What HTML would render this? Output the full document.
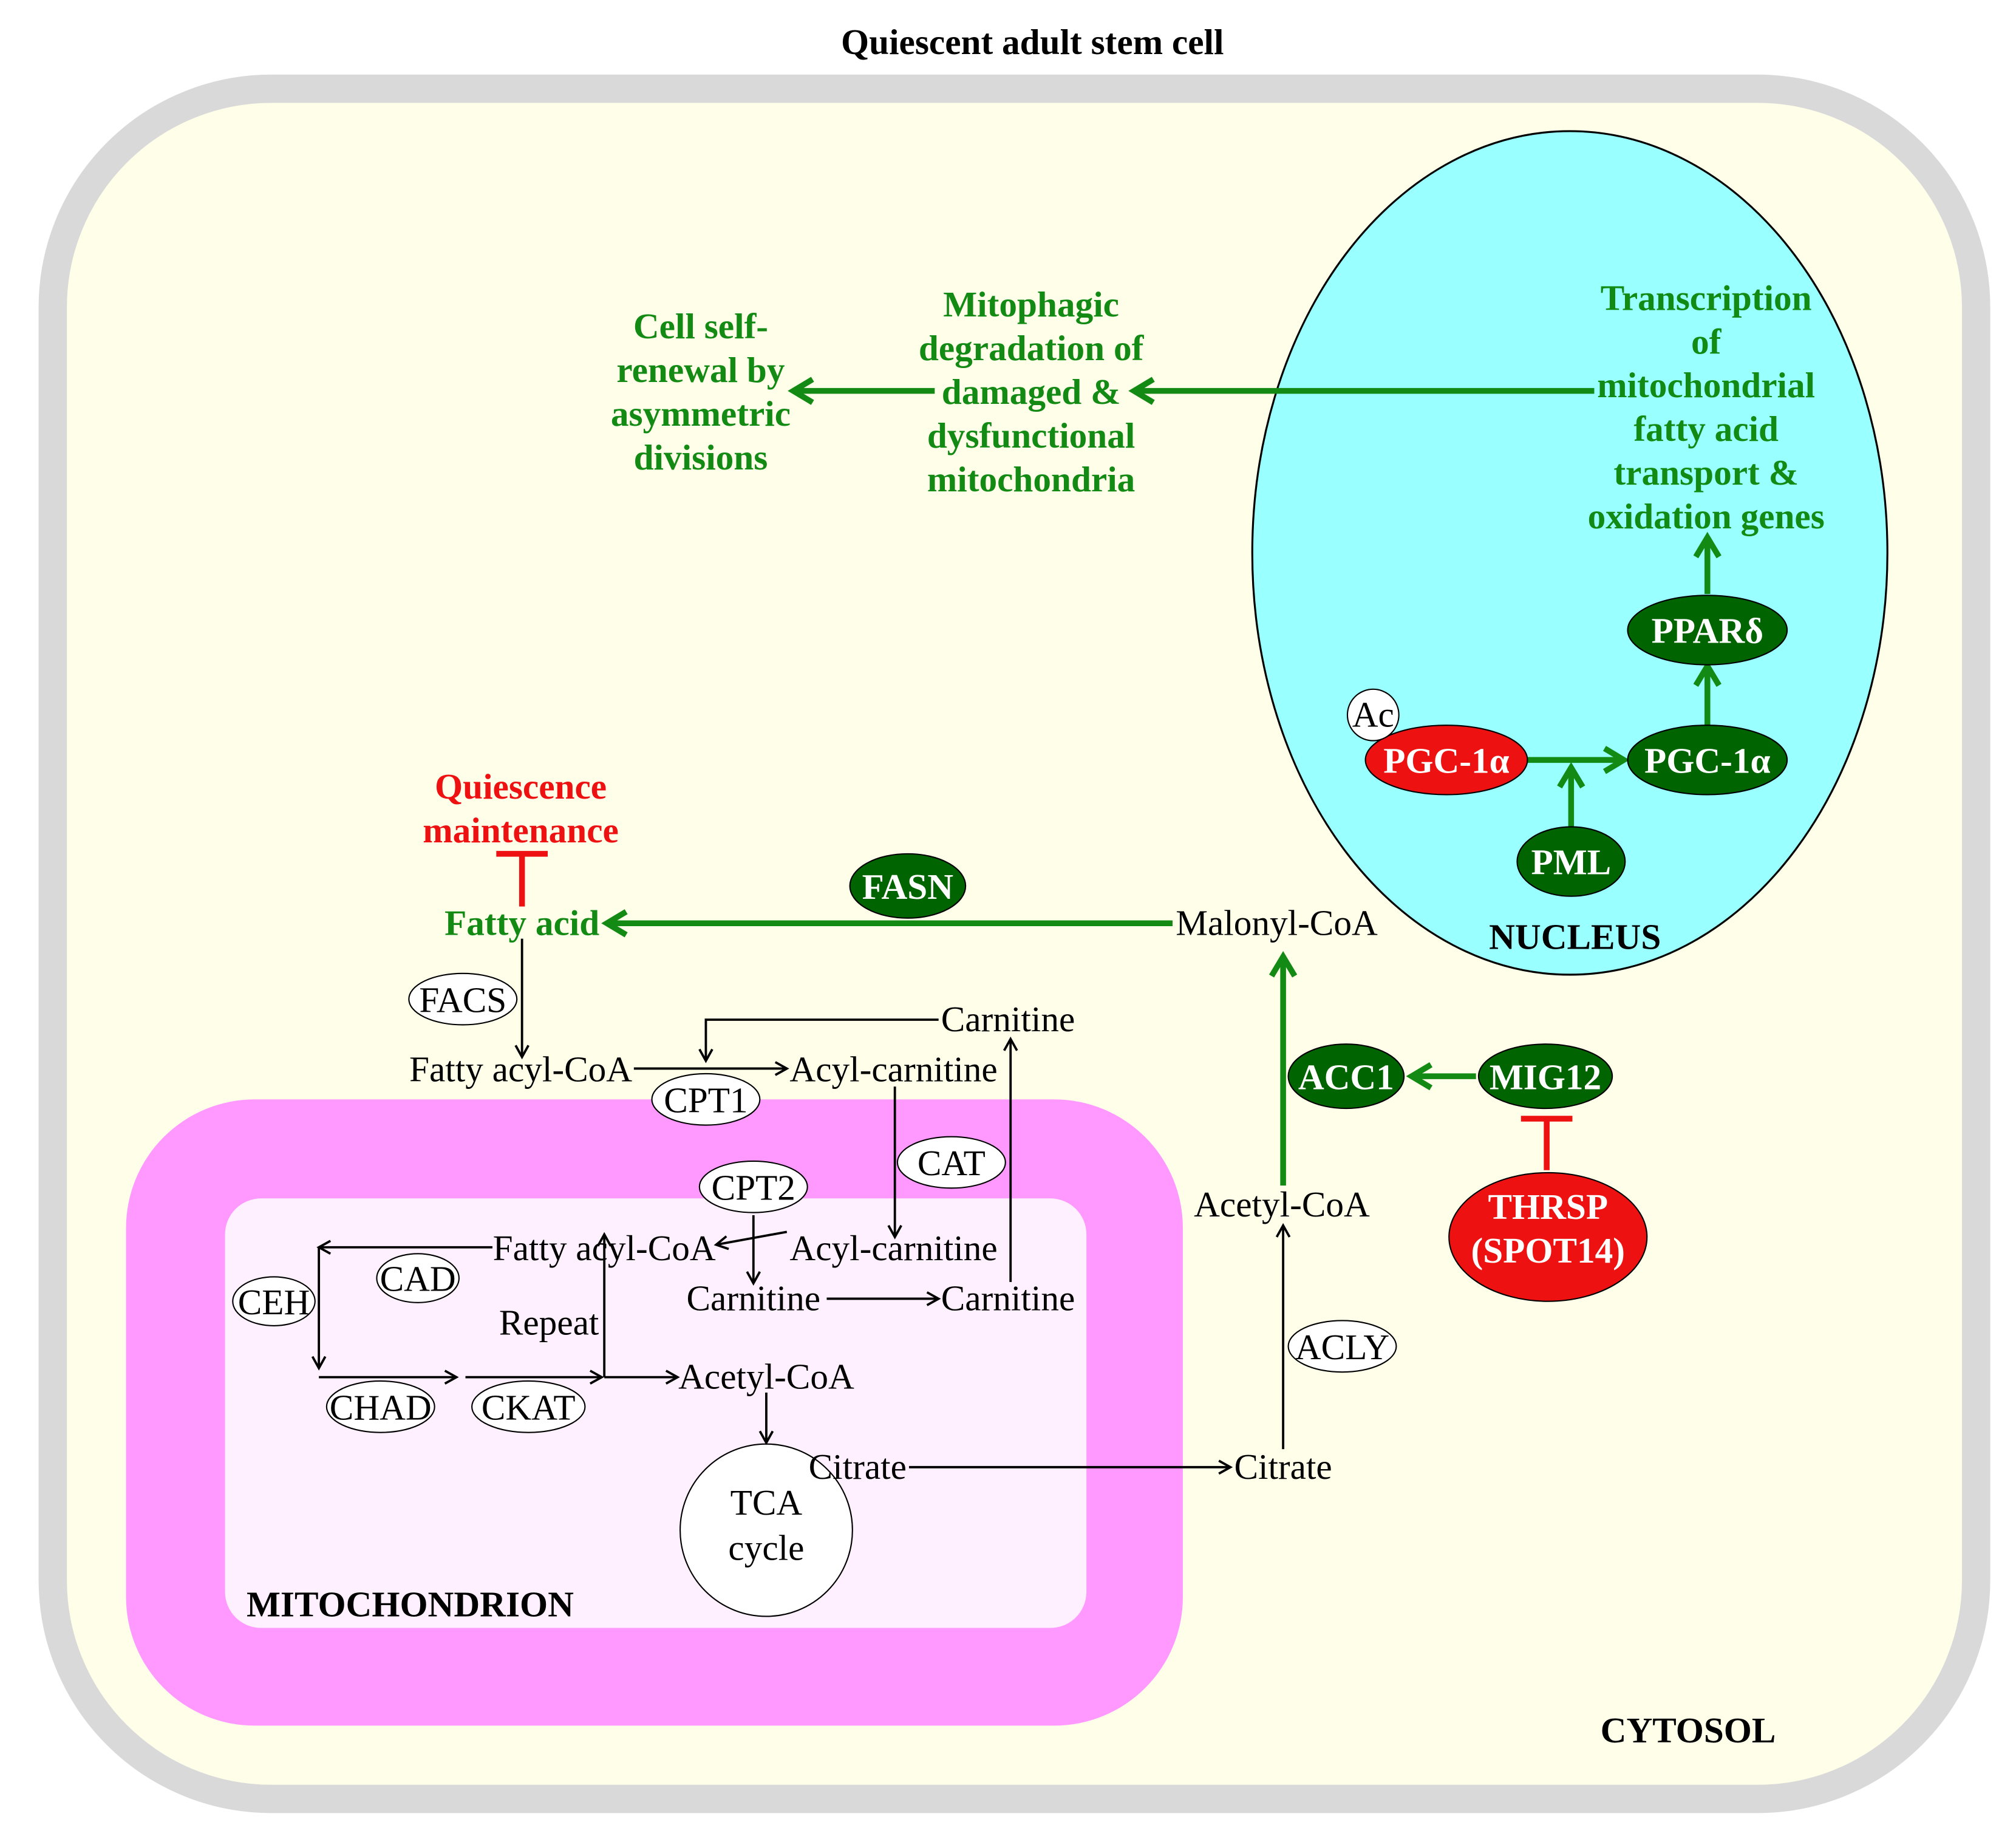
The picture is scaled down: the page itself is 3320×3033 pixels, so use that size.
<!DOCTYPE html>
<html><head><meta charset="utf-8"><style>html,body{margin:0;padding:0;background:#fff}svg{display:block}</style></head>
<body>
<svg xmlns="http://www.w3.org/2000/svg" width="3320" height="3033" viewBox="0 0 1568 1432.5" font-family="Liberation Serif, serif" font-size="28">
<defs>
<marker id="ak" markerWidth="12" markerHeight="12" refX="10" refY="6" orient="auto" markerUnits="userSpaceOnUse"><path d="M1,1 L10,6 L1,11" fill="none" stroke="#000" stroke-width="1.8"/></marker>
<marker id="ag" markerWidth="24" markerHeight="24" refX="19" refY="12" orient="auto" markerUnits="userSpaceOnUse"><path d="M4,3 L19,12 L4,21" fill="none" stroke="#138a13" stroke-width="4.5"/></marker>
</defs>
<rect width="1568" height="1433" fill="#fff"/>
<text x="803" y="42" text-anchor="middle" font-weight="bold" font-size="28">Quiescent adult stem cell</text>
<rect x="41" y="69" width="1496" height="1330" rx="170" fill="#fefee9" stroke="#d9d9d9" stroke-width="22"/>
<ellipse cx="1221" cy="430" rx="247" ry="328" fill="#99ffff" stroke="#000" stroke-width="1.5"/>
<rect x="98" y="855" width="822" height="487" rx="100" fill="#ff99ff"/>
<rect x="175" y="932" width="670" height="334" rx="28" fill="#fff0ff"/>

<g fill="#138a13" font-weight="bold" text-anchor="middle">
<text x="545" y="263">Cell self-</text><text x="545" y="297">renewal by</text><text x="545" y="331">asymmetric</text><text x="545" y="365">divisions</text>
<text x="802" y="246">Mitophagic</text><text x="802" y="280">degradation of</text><text x="802" y="314">damaged &amp;</text><text x="802" y="348">dysfunctional</text><text x="802" y="382">mitochondria</text>
<text x="1327" y="241">Transcription</text><text x="1327" y="275">of</text><text x="1327" y="309">mitochondrial</text><text x="1327" y="343">fatty acid</text><text x="1327" y="377">transport &amp;</text><text x="1327" y="411">oxidation genes</text>
<text x="406" y="727">Fatty acid</text>
</g>
<g stroke="#138a13" stroke-width="4.5" fill="none" marker-end="url(#ag)">
<line x1="1240" y1="304" x2="882" y2="304"/>
<line x1="727" y1="304" x2="617" y2="304"/>
<line x1="1328" y1="462" x2="1328" y2="418"/>
<line x1="1328" y1="564" x2="1328" y2="518"/>
<line x1="1188" y1="591" x2="1263" y2="591"/>
<line x1="1222" y1="644" x2="1222" y2="597"/>
<line x1="912" y1="718" x2="472" y2="718"/>
<line x1="998" y1="922" x2="998" y2="744"/>
<line x1="1148" y1="837" x2="1098" y2="837"/>
</g>
<g fill="#006400" stroke="#000" stroke-width="1">
<ellipse cx="1328" cy="490" rx="62" ry="27"/>
<ellipse cx="1328" cy="591" rx="62" ry="27"/>
<ellipse cx="1222" cy="670" rx="42" ry="27"/>
<ellipse cx="706" cy="689" rx="45" ry="25"/>
<ellipse cx="1047" cy="837" rx="45" ry="25"/>
<ellipse cx="1202" cy="837" rx="52" ry="25"/>
</g>
<g fill="#ee1111" stroke="#000" stroke-width="1">
<ellipse cx="1125" cy="591" rx="63" ry="27"/>
<ellipse cx="1204" cy="962" rx="77" ry="50"/>
</g>
<circle cx="1068" cy="556" r="20" fill="#fff" stroke="#000"/>
<text x="1068" y="565" text-anchor="middle">Ac</text>
<g fill="#fff" font-weight="bold" text-anchor="middle">
<text x="1328" y="500">PPARδ</text><text x="1328" y="601">PGC-1α</text><text x="1125" y="601">PGC-1α</text>
<text x="1222" y="680">PML</text><text x="706" y="699">FASN</text><text x="1047" y="847">ACC1</text><text x="1202" y="847">MIG12</text>
<text x="1204" y="948">THRSP</text><text x="1204" y="982">(SPOT14)</text>
</g>
<g font-weight="bold" text-anchor="middle">
<text x="1225" y="738">NUCLEUS</text><text x="319" y="1257">MITOCHONDRION</text><text x="1313" y="1355">CYTOSOL</text>
</g>
<g fill="#ee1111" font-weight="bold" text-anchor="middle"><text x="405" y="621">Quiescence</text><text x="405" y="655">maintenance</text></g>
<g stroke="#ee1111" stroke-width="4.5"><line x1="406" y1="705" x2="406" y2="664"/><line x1="386" y1="664" x2="426" y2="664"/>
<line x1="1203" y1="910" x2="1203" y2="870"/><line x1="1183" y1="870" x2="1223" y2="870"/></g>

<g fill="#fff" stroke="#000" stroke-width="1">
<ellipse cx="360" cy="777" rx="42" ry="20"/><ellipse cx="549" cy="855" rx="42" ry="20"/><ellipse cx="740" cy="904" rx="42" ry="20"/>
<ellipse cx="586" cy="923" rx="42" ry="20"/><ellipse cx="325" cy="994" rx="32" ry="19"/><ellipse cx="213" cy="1012" rx="32" ry="19"/>
<ellipse cx="296" cy="1094" rx="42" ry="20"/><ellipse cx="411" cy="1094" rx="44" ry="20"/><ellipse cx="1044" cy="1047" rx="42" ry="20"/>
<circle cx="596" cy="1190" r="67"/>
</g>
<g text-anchor="middle">
<text x="360" y="787">FACS</text><text x="549" y="865">CPT1</text><text x="740" y="914">CAT</text><text x="586" y="933">CPT2</text>
<text x="325" y="1004">CAD</text><text x="213" y="1022">CEH</text><text x="296" y="1104">CHAD</text><text x="411" y="1104">CKAT</text><text x="1044" y="1057">ACLY</text>
<text x="596" y="1178">TCA</text><text x="596" y="1213">cycle</text>
<text x="993" y="727">Malonyl-CoA</text><text x="405" y="841">Fatty acyl-CoA</text><text x="695" y="841">Acyl-carnitine</text><text x="784" y="802">Carnitine</text>
<text x="470" y="980">Fatty acyl-CoA</text><text x="695" y="980">Acyl-carnitine</text><text x="586" y="1019">Carnitine</text><text x="784" y="1019">Carnitine</text>
<text x="427" y="1038">Repeat</text><text x="596" y="1080">Acetyl-CoA</text><text x="667" y="1150">Citrate</text><text x="998" y="1150">Citrate</text><text x="997" y="946">Acetyl-CoA</text>
</g>
<g stroke="#000" stroke-width="1.8" fill="none" marker-end="url(#ak)">
<line x1="406" y1="730" x2="406" y2="822"/>
<line x1="493" y1="831" x2="612" y2="831"/>
<polyline points="730,793 549,793 549,825"/>
<line x1="786" y1="997" x2="786" y2="808"/>
<line x1="696" y1="845" x2="696" y2="962"/>
<line x1="612" y1="958" x2="557" y2="968"/>
<line x1="586" y1="945" x2="586" y2="998"/>
<line x1="643" y1="1010" x2="730" y2="1010"/>
<polyline points="383,970 248,970"/>
<line x1="248" y1="970" x2="248" y2="1064"/>
<line x1="248" y1="1071" x2="355" y2="1071"/>
<line x1="362" y1="1071" x2="468" y2="1071"/>
<line x1="470" y1="1071" x2="470" y2="960"/>
<line x1="470" y1="1071" x2="527" y2="1071"/>
<line x1="596" y1="1083" x2="596" y2="1122"/>
<line x1="707" y1="1141" x2="957" y2="1141"/>
<line x1="998" y1="1127" x2="998" y2="953"/>
</g>
</svg>
</body></html>
